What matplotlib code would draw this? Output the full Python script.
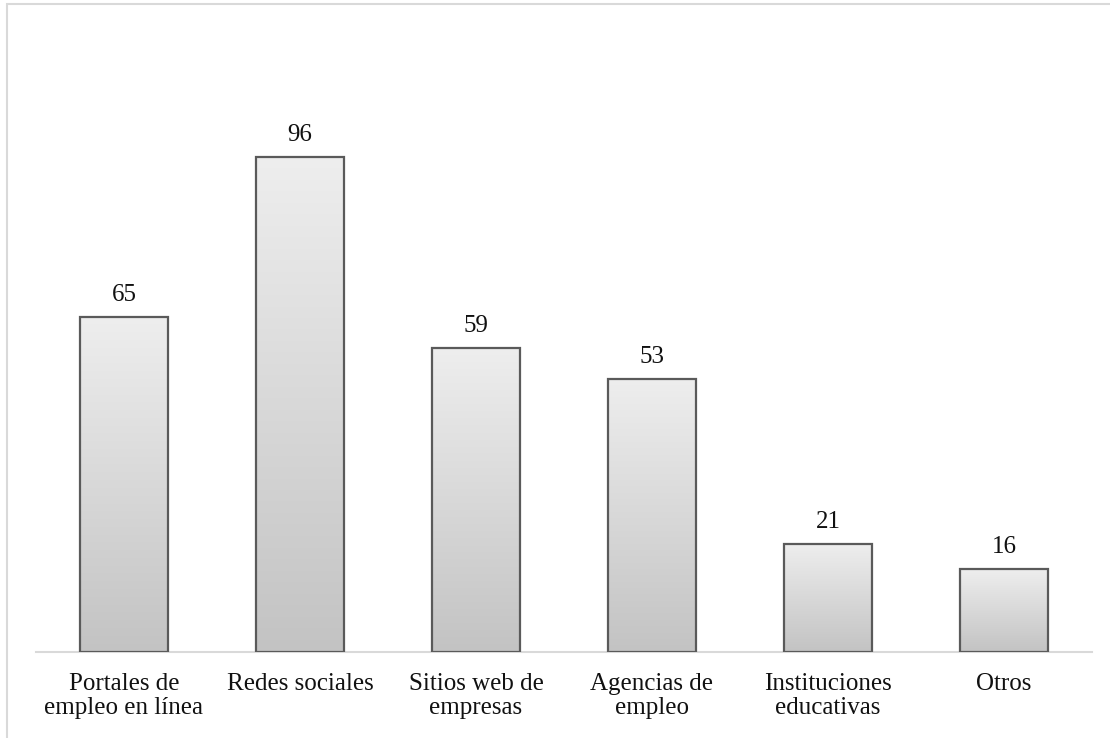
import numpy as np
import matplotlib
matplotlib.use("Agg")
import matplotlib.pyplot as plt
from matplotlib.patches import Rectangle

categories = ["Portales de\nempleo en línea", "Redes sociales", "Sitios web de\nempresas",
              "Agencias de\nempleo", "Instituciones\neducativas", "Otros"]
values = [65, 96, 59, 53, 21, 16]

plt.rcParams["font.family"] = ["Liberation Serif", "DejaVu Serif"]

W, H = 1110, 738
fig = plt.figure(figsize=(W / 100, H / 100), dpi=100)
fig.patch.set_facecolor("white")

# light frame around the chart area (runs off the right and bottom edges)
fig.patches.append(Rectangle((7 / W, -0.05), 1.2, 1 - 4 / H + 0.05,
                             transform=fig.transFigure, fill=False,
                             edgecolor="#d9d9d9", linewidth=1.5, zorder=0))

ax = fig.add_axes([36 / W, 86 / H, (1092 - 36) / W, (652 - 33) / H])
x = np.arange(len(categories))
bars = ax.bar(x, values, width=0.5, facecolor="none", edgecolor="#5a5a5a",
              linewidth=1.6, zorder=3)

# vertical grey gradient inside each bar
grad = np.linspace(0, 1, 256).reshape(-1, 1)
cmap = matplotlib.colors.LinearSegmentedColormap.from_list("g", ["#c3c3c3", "#eeeeee"])
for b in bars:
    x0, y0 = b.get_x(), b.get_y()
    im = ax.imshow(grad, extent=[x0, x0 + b.get_width(), y0, y0 + b.get_height()],
                   origin="lower", aspect="auto", cmap=cmap, zorder=2)
    im.set_clip_path(b)

for xi, v in zip(x, values):
    ax.annotate(f"{v}", (xi, v), xytext=(0, 11.5), textcoords="offset points",
                ha="center", va="baseline", fontsize=18, color="#111111")

ax.set_xlim(-0.5, len(categories) - 0.5)
ax.set_ylim(0, 120)
ax.set_xticks(x)
ax.set_xticklabels(categories, fontsize=18, color="#111111", linespacing=1.12)
ax.tick_params(axis="x", length=0, pad=15)
ax.set_yticks([])
for s in ["top", "right", "left"]:
    ax.spines[s].set_visible(False)
ax.spines["bottom"].set_color("#d9d9d9")
ax.spines["bottom"].set_linewidth(1.5)
ax.spines["bottom"].set_zorder(1)

fig.savefig("out.png", dpi=100)
